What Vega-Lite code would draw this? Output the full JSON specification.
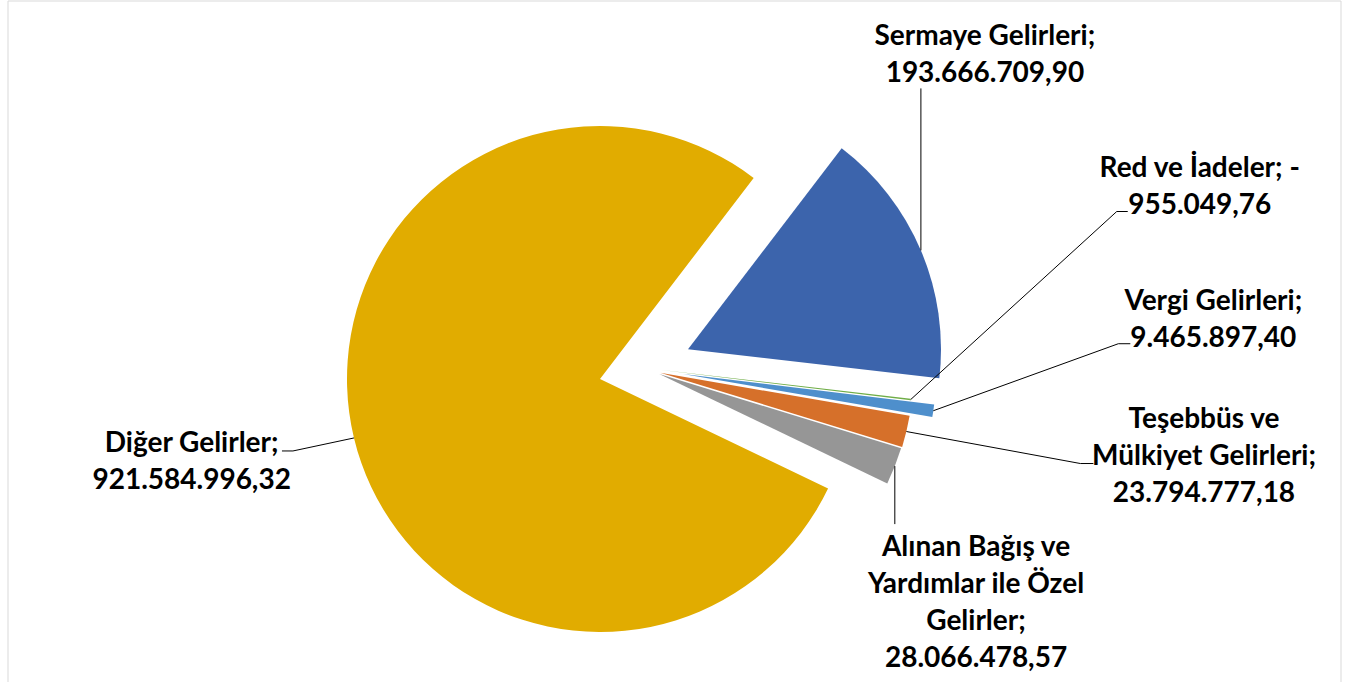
{
  "$schema": "https://vega.github.io/schema/vega-lite/v6.json",
  "width": 1333,
  "height": 687.5,
  "autosize": {"type": "none"},
  "padding": {"left": 7.5, "top": 0.5, "right": 18.5, "bottom": -6},
  "background": "#FFFFFF",
  "config": {
    "view": {"stroke": "#D9D9D9", "strokeWidth": 1},
    "locale": {"number": {"decimal": ",", "thousands": ".", "grouping": [3], "currency": ["", " TL"]}},
    "text": {"font": "Lato", "fontWeight": "bold", "fontSize": 28, "lineHeight": 37, "align": "center", "baseline": "middle", "lineBreak": "\n", "color": "#000000"},
    "rule": {"color": "#000000", "strokeWidth": 1}
  },
  "data": {"values": [
    {"kalem": "Sermaye Gelirleri", "tutar": 193666709.90},
    {"kalem": "Red ve İadeler", "tutar": -955049.76},
    {"kalem": "Vergi Gelirleri", "tutar": 9465897.40},
    {"kalem": "Teşebbüs ve Mülkiyet Gelirleri", "tutar": 23794777.18},
    {"kalem": "Alınan Bağış ve Yardımlar ile Özel Gelirler", "tutar": 28066478.57},
    {"kalem": "Diğer Gelirler", "tutar": 921584996.32}
  ]},
  "transform": [
    {"calculate": "abs(datum.tutar)", "as": "mutlak"},
    {"window": [{"op": "row_number", "as": "sira"}]},
    {"stack": "mutlak", "groupby": [], "sort": [{"field": "sira", "order": "ascending"}], "as": ["t0", "t1"]},
    {"joinaggregate": [{"op": "sum", "field": "mutlak", "as": "toplam"}]},
    {"calculate": "datum.t0 / datum.toplam", "as": "f0"},
    {"calculate": "datum.t1 / datum.toplam", "as": "f1"},
    {"calculate": "(datum.f0 + datum.f1) / 2", "as": "fm"},
    {"calculate": "0.65275 + 2 * PI * datum.fm", "as": "aci"},
    {"calculate": "width / 2 + 253 * sin(datum.aci)", "as": "kx"},
    {"calculate": "height / 2 - 253 * cos(datum.aci)", "as": "ky"},
    {"calculate": "format(abs(datum.tutar), ',.2f')", "as": "deger"},
    {"calculate": "datum.kalem + (datum.tutar < 0 ? '; -' : ';') + '\\n' + datum.deger", "as": "etiket"}
  ],
  "layer": [
    {
      "transform": [{"filter": "datum.kalem === 'Sermaye Gelirleri'"}],
      "layer": [
        {"mark": {"type": "arc", "radius": 253, "color": "#3C64AC", "xOffset": 14, "yOffset": 5},
         "encoding": {"theta": {"field": "f0", "type": "quantitative", "stack": null, "scale": {"domain": [0, 1], "range": [0.65275, 6.93594], "nice": false}}, "theta2": {"field": "f1"}}},
        {"mark": {"type": "rule", "xOffset": 14, "yOffset": 5, "x2Offset": 14, "y2Offset": -157},
         "encoding": {"x": {"field": "kx", "type": "quantitative", "scale": null, "axis": null}, "x2": {"field": "kx"}, "y": {"field": "ky", "type": "quantitative", "scale": null, "axis": null}, "y2": {"field": "ky"}}},
        {"mark": {"type": "text", "radius": 253, "xOffset": 14, "yOffset": 5, "dx": 64, "dy": -213.5},
         "encoding": {"theta": {"field": "fm", "type": "quantitative", "stack": null, "scale": {"domain": [0, 1], "range": [0.65275, 6.93594], "nice": false}}, "text": {"field": "etiket"}}}
      ]
    },
    {
      "transform": [{"filter": "datum.kalem === 'Red ve İadeler'"}],
      "layer": [
        {"mark": {"type": "arc", "radius": 253, "color": "#70AD47", "xOffset": -14.5, "yOffset": 25.5},
         "encoding": {"theta": {"field": "f0", "type": "quantitative", "stack": null, "scale": {"domain": [0, 1], "range": [0.65275, 6.93594], "nice": false}}, "theta2": {"field": "f1"}}},
        {"mark": {"type": "rule", "xOffset": -14.5, "yOffset": 25.5, "x2Offset": 191.5, "y2Offset": -162.5},
         "encoding": {"x": {"field": "kx", "type": "quantitative", "scale": null, "axis": null}, "x2": {"field": "kx"}, "y": {"field": "ky", "type": "quantitative", "scale": null, "axis": null}, "y2": {"field": "ky"}}},
        {"mark": {"type": "rule", "xOffset": 191.5, "yOffset": -162.5, "x2Offset": 202.5, "y2Offset": -162.5},
         "encoding": {"x": {"field": "kx", "type": "quantitative", "scale": null, "axis": null}, "x2": {"field": "kx"}, "y": {"field": "ky", "type": "quantitative", "scale": null, "axis": null}, "y2": {"field": "ky"}}},
        {"mark": {"type": "text", "radius": 253, "xOffset": -14.5, "yOffset": 25.5, "dx": 289, "dy": -230.5},
         "encoding": {"theta": {"field": "fm", "type": "quantitative", "stack": null, "scale": {"domain": [0, 1], "range": [0.65275, 6.93594], "nice": false}}, "text": {"field": "etiket"}}}
      ]
    },
    {
      "transform": [{"filter": "datum.kalem === 'Vergi Gelirleri'"}],
      "layer": [
        {"mark": {"type": "arc", "radius": 253, "color": "#4E8FCC", "xOffset": 9, "yOffset": 29.75},
         "encoding": {"theta": {"field": "f0", "type": "quantitative", "stack": null, "scale": {"domain": [0, 1], "range": [0.65275, 6.93594], "nice": false}}, "theta2": {"field": "f1"}}},
        {"mark": {"type": "rule", "xOffset": 9, "yOffset": 29.75, "x2Offset": 194, "y2Offset": -37.25},
         "encoding": {"x": {"field": "kx", "type": "quantitative", "scale": null, "axis": null}, "x2": {"field": "kx"}, "y": {"field": "ky", "type": "quantitative", "scale": null, "axis": null}, "y2": {"field": "ky"}}},
        {"mark": {"type": "rule", "xOffset": 194, "yOffset": -37.25, "x2Offset": 206, "y2Offset": -37.25},
         "encoding": {"x": {"field": "kx", "type": "quantitative", "scale": null, "axis": null}, "x2": {"field": "kx"}, "y": {"field": "ky", "type": "quantitative", "scale": null, "axis": null}, "y2": {"field": "ky"}}},
        {"mark": {"type": "text", "radius": 253, "xOffset": 9, "yOffset": 29.75, "dx": 280, "dy": -108.5},
         "encoding": {"theta": {"field": "fm", "type": "quantitative", "stack": null, "scale": {"domain": [0, 1], "range": [0.65275, 6.93594], "nice": false}}, "text": {"field": "etiket"}}}
      ]
    },
    {
      "transform": [{"filter": "datum.kalem === 'Teşebbüs ve Mülkiyet Gelirleri'"}],
      "layer": [
        {"mark": {"type": "arc", "radius": 253, "color": "#D6702A", "xOffset": -13.7, "yOffset": 28.5},
         "encoding": {"theta": {"field": "f0", "type": "quantitative", "stack": null, "scale": {"domain": [0, 1], "range": [0.65275, 6.93594], "nice": false}}, "theta2": {"field": "f1"}}},
        {"mark": {"type": "rule", "xOffset": -13.7, "yOffset": 28.5, "x2Offset": 160.3, "y2Offset": 60.5},
         "encoding": {"x": {"field": "kx", "type": "quantitative", "scale": null, "axis": null}, "x2": {"field": "kx"}, "y": {"field": "ky", "type": "quantitative", "scale": null, "axis": null}, "y2": {"field": "ky"}}},
        {"mark": {"type": "rule", "xOffset": 160.3, "yOffset": 60.5, "x2Offset": 173.3, "y2Offset": 60.5},
         "encoding": {"x": {"field": "kx", "type": "quantitative", "scale": null, "axis": null}, "x2": {"field": "kx"}, "y": {"field": "ky", "type": "quantitative", "scale": null, "axis": null}, "y2": {"field": "ky"}}},
        {"transform": [{"calculate": "replace(datum.etiket, 've ', 've\\n')", "as": "etiket"}],
         "mark": {"type": "text", "radius": 253, "xOffset": -13.7, "yOffset": 28.5, "dx": 297.6, "dy": -11.5},
         "encoding": {"theta": {"field": "fm", "type": "quantitative", "stack": null, "scale": {"domain": [0, 1], "range": [0.65275, 6.93594], "nice": false}}, "text": {"field": "etiket"}}}
      ]
    },
    {
      "transform": [{"filter": "datum.kalem === 'Alınan Bağış ve Yardımlar ile Özel Gelirler'"}],
      "layer": [
        {"mark": {"type": "arc", "radius": 253, "color": "#969696", "xOffset": -14.8, "yOffset": 29.7},
         "encoding": {"theta": {"field": "f0", "type": "quantitative", "stack": null, "scale": {"domain": [0, 1], "range": [0.65275, 6.93594], "nice": false}}, "theta2": {"field": "f1"}}},
        {"mark": {"type": "rule", "xOffset": -14.8, "yOffset": 29.7, "x2Offset": -14.8, "y2Offset": 87.7},
         "encoding": {"x": {"field": "kx", "type": "quantitative", "scale": null, "axis": null}, "x2": {"field": "kx"}, "y": {"field": "ky", "type": "quantitative", "scale": null, "axis": null}, "y2": {"field": "ky"}}},
        {"transform": [{"calculate": "replace(replace(datum.etiket, 've ', 've\\n'), ' Gelirler;', '\\nGelirler;')", "as": "etiket"}],
         "mark": {"type": "text", "radius": 253, "xOffset": -14.8, "yOffset": 29.7, "dx": 81.2, "dy": 81.9},
         "encoding": {"theta": {"field": "fm", "type": "quantitative", "stack": null, "scale": {"domain": [0, 1], "range": [0.65275, 6.93594], "nice": false}}, "text": {"field": "etiket"}}}
      ]
    },
    {
      "transform": [{"filter": "datum.kalem === 'Diğer Gelirler'"}],
      "layer": [
        {"mark": {"type": "arc", "radius": 253, "color": "#E1AC00", "xOffset": -74, "yOffset": 34.75},
         "encoding": {"theta": {"field": "f0", "type": "quantitative", "stack": null, "scale": {"domain": [0, 1], "range": [0.65275, 6.93594], "nice": false}}, "theta2": {"field": "f1"}}},
        {"mark": {"type": "rule", "xOffset": -74, "yOffset": 34.75, "x2Offset": -135, "y2Offset": 47.75},
         "encoding": {"x": {"field": "kx", "type": "quantitative", "scale": null, "axis": null}, "x2": {"field": "kx"}, "y": {"field": "ky", "type": "quantitative", "scale": null, "axis": null}, "y2": {"field": "ky"}}},
        {"mark": {"type": "rule", "xOffset": -135, "yOffset": 47.75, "x2Offset": -146, "y2Offset": 47.75},
         "encoding": {"x": {"field": "kx", "type": "quantitative", "scale": null, "axis": null}, "x2": {"field": "kx"}, "y": {"field": "ky", "type": "quantitative", "scale": null, "axis": null}, "y2": {"field": "ky"}}},
        {"mark": {"type": "text", "radius": 253, "xOffset": -74, "yOffset": 34.75, "dx": -162.3, "dy": 6.1},
         "encoding": {"theta": {"field": "fm", "type": "quantitative", "stack": null, "scale": {"domain": [0, 1], "range": [0.65275, 6.93594], "nice": false}}, "text": {"field": "etiket"}}}
      ]
    }
  ]
}
